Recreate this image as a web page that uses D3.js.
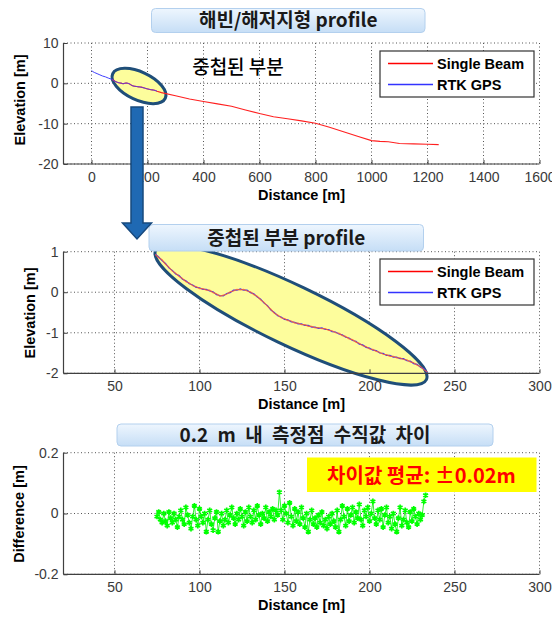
<!DOCTYPE html>
<html>
<head>
<meta charset="utf-8">
<script src="https://d3js.org/d3.v7.min.js"></script>
<style>
  body { margin: 0; background: #fff; }
  svg { display: block; font-family: "Liberation Sans", Arial, sans-serif; }
  .kr { font-family: "Noto Sans CJK KR", sans-serif; }
</style>
</head>
<body>
<svg width="552" height="619"></svg>
<script>
// ---- data ----
const rtkNearDist = [0, 5, 10, 20, 30, 40, 50, 60, 73];
const rtkNearElev = [3.2, 2.9, 2.7, 2.4, 2.1, 1.8, 1.6, 1.3, 1.0];

const overlapDist = [74, 76, 78, 80, 82, 84, 86, 88, 90, 92,
  94, 96, 98, 100, 102, 104, 106, 108, 110, 112,
  114, 116, 118, 120, 122, 124, 126, 128, 130, 132,
  134, 136, 138, 140, 142, 144, 146, 148, 150, 152,
  154, 156, 158, 160, 162, 164, 166, 168, 170, 172,
  174, 176, 178, 180, 182, 184, 186, 188, 190, 192,
  194, 196, 198, 200, 202, 204, 206, 208, 210, 212,
  214, 216, 218, 220, 222, 224, 226, 228, 230, 232, 234];
const sbElev = [0.93, 0.85, 0.80, 0.69, 0.62, 0.52, 0.47, 0.39, 0.34, 0.26,
  0.23, 0.16, 0.14, 0.09, 0.09, 0.05, 0.05, -0.01, -0.04, -0.10,
  -0.07, -0.05, 0.01, 0.03, 0.07, 0.06, 0.07, 0.03, 0.01, -0.06,
  -0.10, -0.19, -0.25, -0.35, -0.42, -0.52, -0.56, -0.63, -0.65, -0.70,
  -0.71, -0.76, -0.76, -0.80, -0.80, -0.84, -0.84, -0.88, -0.87, -0.90,
  -0.90, -0.94, -0.95, -1.00, -1.01, -1.07, -1.09, -1.15, -1.17, -1.23,
  -1.26, -1.32, -1.34, -1.40, -1.41, -1.46, -1.48, -1.53, -1.54, -1.58,
  -1.58, -1.62, -1.62, -1.66, -1.67, -1.72, -1.74, -1.80, -1.83, -1.91, -1.97];
const rtkElev = [0.94, 0.87, 0.78, 0.71, 0.60, 0.54, 0.45, 0.41, 0.32, 0.28,
  0.21, 0.18, 0.12, 0.11, 0.07, 0.07, 0.03, 0.01, -0.06, -0.08,
  -0.09, -0.03, -0.01, 0.05, 0.05, 0.08, 0.05, 0.05, -0.01, -0.04,
  -0.12, -0.17, -0.27, -0.33, -0.44, -0.50, -0.58, -0.61, -0.67, -0.68,
  -0.73, -0.74, -0.78, -0.78, -0.82, -0.82, -0.86, -0.86, -0.89, -0.88,
  -0.92, -0.92, -0.97, -0.98, -1.03, -1.05, -1.11, -1.13, -1.19, -1.21,
  -1.28, -1.30, -1.36, -1.38, -1.43, -1.44, -1.50, -1.51, -1.56, -1.56,
  -1.60, -1.60, -1.64, -1.64, -1.69, -1.70, -1.76, -1.78, -1.85, -1.89, -1.98];

const sbFarDist = [250, 300, 350, 400, 450, 500, 550, 600, 650, 700, 750, 800,
  850, 900, 950, 1000, 1030, 1060, 1100, 1150, 1200, 1240];
const sbFarElev = [-2.3, -3.1, -3.9, -4.5, -5.1, -5.7, -6.6, -7.5, -8.3, -8.8, -9.3, -9.9,
  -10.9, -12.0, -13.1, -14.2, -14.4, -14.5, -14.9, -15.0, -15.1, -15.2];

const diffDist = [75, 76, 77, 78, 79, 80, 81, 82, 83, 84, 85, 86, 87, 88, 89, 90, 91, 92, 93, 94,
  95, 96, 97, 98, 99, 100, 101, 102, 103, 104, 105, 106, 107, 108, 109, 110, 111, 112, 113, 114,
  115, 116, 117, 118, 119, 120, 121, 122, 123, 124, 125, 126, 127, 128, 129, 130, 131, 132, 133, 134,
  135, 136, 137, 138, 139, 140, 141, 142, 143, 144, 145, 146, 147, 148, 149, 150, 151, 152, 153, 154,
  155, 156, 157, 158, 159, 160, 161, 162, 163, 164, 165, 166, 167, 168, 169, 170, 171, 172, 173, 174,
  175, 176, 177, 178, 179, 180, 181, 182, 183, 184, 185, 186, 187, 188, 189, 190, 191, 192, 193, 194,
  195, 196, 197, 198, 199, 200, 201, 202, 203, 204, 205, 206, 207, 208, 209, 210, 211, 212, 213, 214,
  215, 216, 217, 218, 219, 220, 221, 222, 223, 224, 225, 226, 227, 228, 229, 230, 231, 232, 233];
const diffVal = [-0.01, 0.005, -0.02, -0.03, 0.0, -0.025, -0.04, 0.005, -0.015, -0.03,
  0.0, -0.02, -0.045, -0.01, 0.01, -0.02, -0.035, 0.02, -0.005, -0.03,
  -0.05, -0.01, 0.025, -0.02, -0.04, 0.015, -0.01, -0.03, 0.0, -0.06,
  -0.02, 0.01, -0.035, -0.055, -0.015, 0.005, -0.06, -0.025, 0.0, -0.04,
  -0.02, 0.01, -0.03, -0.005, 0.02, -0.015, -0.035, 0.0, -0.02, 0.015,
  -0.01, -0.04, 0.005, -0.025, 0.02, -0.01, -0.03, 0.01, -0.02, 0.025,
  -0.005, -0.035, 0.0, -0.015, 0.02, -0.025, 0.005, -0.01, 0.015, -0.02,
  0.01, -0.005, 0.07, 0.01, -0.02, 0.025, 0.0, -0.03, 0.035, -0.01,
  -0.04, 0.015, -0.025, 0.005, -0.035, 0.02, -0.015, -0.045, 0.0, -0.06,
  -0.02, 0.01, -0.035, -0.015, -0.045, -0.005, -0.03, 0.005, -0.04, -0.02,
  -0.05, -0.01, -0.035, 0.0, -0.025, -0.045, 0.01, -0.06, -0.02, 0.025,
  -0.01, -0.04, 0.015, -0.025, -0.005, 0.02, -0.03, 0.005, -0.015, 0.03,
  -0.02, -0.04, 0.01, -0.01, 0.02, -0.025, 0.0, 0.04, -0.015, -0.035,
  0.01, -0.02, 0.015, -0.045, -0.005, 0.02, -0.03, -0.01, -0.05, 0.0,
  -0.035, -0.06, -0.015, 0.02, -0.04, -0.02, 0.01, -0.03, -0.045, 0.005,
  -0.025, 0.015, -0.01, -0.035, 0.0, -0.02, -0.005, 0.04, 0.06];

const topXTicks = [0, 200, 400, 600, 800, 1000, 1200, 1400, 1600];
const topYTicks = [10, 0, -10, -20];
const zoomXTicks = [50, 100, 150, 200, 250, 300];
const midYTicks = [1, 0, -1, -2];
const diffYTicks = [0.2, 0, -0.2];

const titles = ['해빈/해저지형 profile', '중첩된 부분 profile', '0.2 m 내 측정점 수직값 차이'];
const legendLabels = ['Single Beam', 'RTK GPS'];

// ---- drawing ----
const svg = d3.select('svg');
const L = 63.5, R = 539.5;
const plain = d => String(d);

const defs = svg.append('defs');
const grad = defs.append('linearGradient').attr('id', 'tbox').attr('x1', 0).attr('x2', 0).attr('y1', 0).attr('y2', 1);
grad.append('stop').attr('offset', '0%').attr('stop-color', '#eef6fe');
grad.append('stop').attr('offset', '100%').attr('stop-color', '#c6def6');

function panel(cfg) {
  const g = svg.append('g');
  const x = d3.scaleLinear().domain(cfg.xDomain).range([L, R]);
  const y = d3.scaleLinear().domain(cfg.yDomain).range([cfg.bottom, cfg.top]);

  g.selectAll('.gx').data(cfg.xTicks).join('line')
    .attr('x1', d => x(d)).attr('x2', d => x(d))
    .attr('y1', cfg.top).attr('y2', cfg.bottom)
    .attr('stroke', '#555').attr('stroke-width', 1).attr('stroke-dasharray', '1,2.5');
  g.selectAll('.gy').data(cfg.yTicks).join('line')
    .attr('x1', L).attr('x2', R)
    .attr('y1', d => y(d)).attr('y2', d => y(d))
    .attr('stroke', '#555').attr('stroke-width', 1).attr('stroke-dasharray', '1,2.5');

  const layer = g.append('g');

  const ax = g.append('g').attr('transform', `translate(0,${cfg.bottom})`)
    .call(d3.axisBottom(x).tickValues(cfg.xTicks).tickFormat(plain).tickSizeInner(-4).tickSizeOuter(0).tickPadding(8));
  const ay = g.append('g').attr('transform', `translate(${L},0)`)
    .call(d3.axisLeft(y).tickValues(cfg.yTicks).tickFormat(plain).tickSizeInner(-4).tickSizeOuter(0).tickPadding(5));
  [ax, ay].forEach(a => {
    a.select('.domain').attr('stroke', '#404040').attr('stroke-width', 1.2);
    a.selectAll('.tick line').attr('stroke', '#404040');
    a.selectAll('.tick text').attr('fill', '#3a3a3a').style('font-size', '14px')
      .style('font-family', '"Liberation Sans", Arial, sans-serif');
  });
  ax.select('.domain').attr('d', `M${L},0H${R}`);
  ay.select('.domain').attr('d', `M0,${cfg.bottom}V${cfg.top}`);

  g.append('text').attr('x', (L + R) / 2).attr('y', cfg.bottom + 36)
    .attr('text-anchor', 'middle').style('font-weight', 'bold').style('font-size', '14.5px')
    .text('Distance [m]');
  g.append('text').attr('transform', `translate(${cfg.ylabX},${cfg.ylabY}) rotate(-90)`)
    .attr('dy', '0.35em').attr('text-anchor', 'middle').style('font-weight', 'bold').style('font-size', '14.5px')
    .text(cfg.ylab);
  return { g, layer, x, y };
}

function titleBox(x0, y0, x1, y1, text, base, wordGap) {
  svg.append('rect').attr('x', x0).attr('y', y0).attr('width', x1 - x0).attr('height', y1 - y0)
    .attr('rx', 4).attr('fill', 'url(#tbox)').attr('stroke', '#b3d0ee').attr('stroke-width', 1);
  svg.append('text').attr('class', 'kr').attr('x', (x0 + x1) / 2).attr('y', base)
    .attr('text-anchor', 'middle').style('font-weight', 'bold').style('font-size', '19px')
    .style('word-spacing', wordGap + 'px')
    .attr('fill', '#1a1a1a').text(text);
}

function legend(g, top) {
  g.append('rect').attr('x', 380).attr('y', top).attr('width', 154).attr('height', 46)
    .attr('fill', '#fff').attr('stroke', '#333').attr('stroke-width', 1.2);
  const cols = ['#ff0000', '#3333ff'];
  legendLabels.forEach((t, i) => {
    const yy = top + 12.5 + i * 21;
    g.append('line').attr('x1', 388).attr('x2', 433).attr('y1', yy).attr('y2', yy)
      .attr('stroke', cols[i]).attr('stroke-width', 1.3);
    g.append('text').attr('x', 437).attr('y', yy).attr('dy', '0.36em')
      .style('font-weight', 'bold').style('font-size', '14.5px').text(t);
  });
}

const ellStyle = sel => sel.attr('fill', '#fdfd9c').attr('stroke', '#1f4e79').attr('stroke-width', 3);

// top panel
const p1 = panel({ xDomain: [-100, 1600], yDomain: [-20, 10], top: 43, bottom: 164,
  xTicks: topXTicks, yTicks: topYTicks, ylab: 'Elevation [m]', ylabX: 20, ylabY: 100 });
ellStyle(p1.layer.append('ellipse').attr('cx', 139).attr('cy', 86).attr('rx', 29).attr('ry', 14)
  .attr('transform', 'rotate(25 139 86)'));
const line1 = d3.line().x(d => p1.x(d[0])).y(d => p1.y(d[1]));
const topRed = overlapDist.map((d, i) => [d, sbElev[i]]).concat(sbFarDist.map((d, i) => [d, sbFarElev[i]]));
const topBlue = rtkNearDist.map((d, i) => [d, rtkNearElev[i]]).concat(overlapDist.map((d, i) => [d, rtkElev[i]]));
p1.layer.append('path').attr('d', line1(topRed)).attr('fill', 'none').attr('stroke', '#ff2020').attr('stroke-width', 1.1);
p1.layer.append('path').attr('d', line1(topBlue)).attr('fill', 'none').attr('stroke', '#4040ff').attr('stroke-width', 1);
p1.g.append('text').attr('class', 'kr').attr('x', 238).attr('y', 74).attr('text-anchor', 'middle')
  .style('font-size', '19px').style('font-weight', '500').text('중첩된 부분');
legend(p1.g, 51);

// middle panel
const p2 = panel({ xDomain: [20, 300], yDomain: [-2, 1], top: 251.7, bottom: 373.3,
  xTicks: zoomXTicks, yTicks: midYTicks, ylab: 'Elevation [m]', ylabX: 30, ylabY: 313 });
ellStyle(p2.layer.append('ellipse').attr('cx', 291).attr('cy', 315).attr('rx', 150).attr('ry', 30)
  .attr('transform', 'rotate(25.5 291 315)'));
p2.layer.append('path').datum(overlapDist)
  .attr('d', d3.line().x(d => p2.x(d)).y((d, i) => p2.y(rtkElev[i])))
  .attr('fill', 'none').attr('stroke', '#3c3cff').attr('stroke-width', 1.2);
p2.layer.append('path').datum(overlapDist)
  .attr('d', d3.line().x(d => p2.x(d)).y((d, i) => p2.y(sbElev[i])))
  .attr('fill', 'none').attr('stroke', '#ff5a2a').attr('stroke-width', 1.2).attr('opacity', 0.8);
legend(p2.g, 259);

// bottom panel
const p3 = panel({ xDomain: [20, 300], yDomain: [-0.2, 0.2], top: 452.7, bottom: 574.3,
  xTicks: zoomXTicks, yTicks: diffYTicks, ylab: 'Difference [m]', ylabX: 19, ylabY: 514 });
p3.layer.append('path').datum(diffDist)
  .attr('d', d3.line().x(d => p3.x(d)).y((d, i) => p3.y(diffVal[i])))
  .attr('fill', 'none').attr('stroke', '#00ee00').attr('stroke-width', 0.8);
p3.layer.selectAll('.pt').data(diffDist).join('path')
  .attr('transform', (d, i) => `translate(${p3.x(d)},${p3.y(diffVal[i])})`)
  .attr('d', d3.symbol(d3.symbolAsterisk, 22))
  .attr('fill', 'none').attr('stroke', '#00ff00').attr('stroke-width', 1.7);
p3.g.append('rect').attr('x', 307).attr('y', 457.5).attr('width', 229.5).attr('height', 34.5).attr('fill', '#ffff00');
p3.g.append('text').attr('class', 'kr').attr('x', 421.5).attr('y', 482.5).attr('text-anchor', 'middle')
  .style('font-size', '20px').style('font-weight', 'bold').attr('fill', '#ff0000').text('차이값 평균: ±0.02m');

// title boxes
titleBox(151.5, 8.5, 425, 32.5, titles[0], 27, 0);
titleBox(149, 224.5, 423.5, 251, titles[1], 244.5, 0);
titleBox(117, 424, 493, 446, titles[2], 441.5, 5);

// arrow from top overlap to the zoomed panel
svg.append('path')
  .attr('d', 'M131,107H143V223H151.5L137,239L122.5,223H131Z')
  .attr('fill', '#1f69b3').attr('stroke', '#17497e').attr('stroke-width', 1.5);
</script>
</body>
</html>
